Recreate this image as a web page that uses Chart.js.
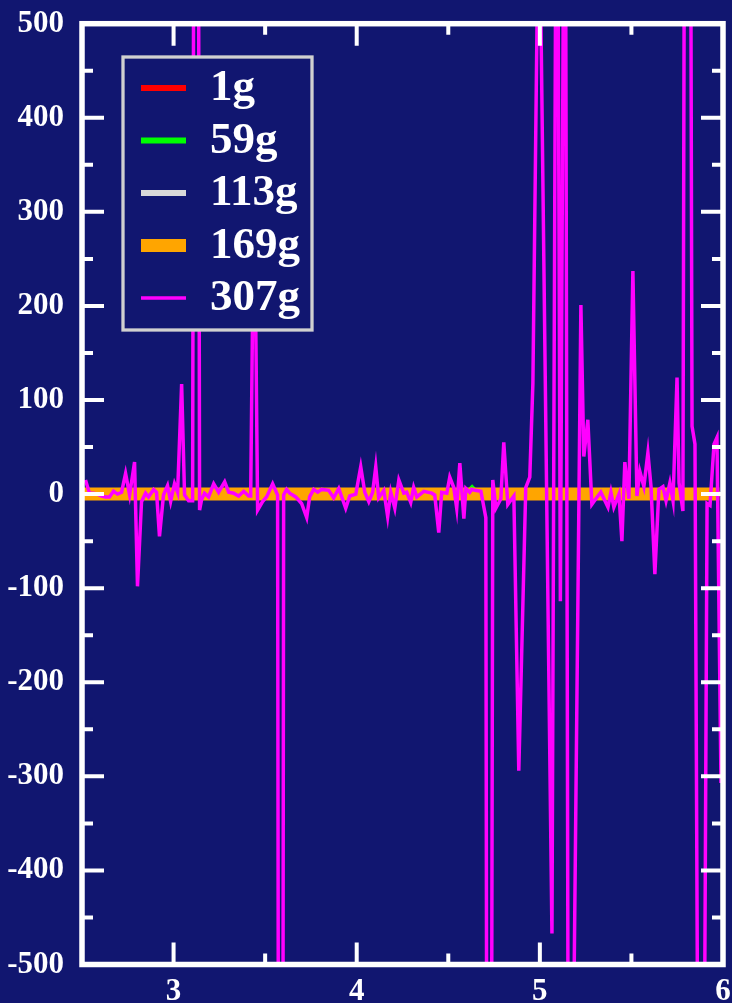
<!DOCTYPE html>
<html>
<head>
<meta charset="utf-8">
<script src="https://cdn.jsdelivr.net/npm/chart.js@4/dist/chart.umd.min.js"></script>
<style>
  html, body { margin: 0; padding: 0; background: #111670; }
  canvas { display: block; }
</style>
</head>
<body>
<canvas id="myChart" width="732" height="1003"></canvas>
<script>
// axis ticks
const xTicks = [3, 4, 5, 6];
const xMinor = [3.5, 4.5, 5.5];
const yTicks = [-500, -400, -300, -200, -100, 0, 100, 200, 300, 400, 500];
const yMinor = [-450, -350, -250, -150, -50, 50, 150, 250, 350, 450];

// 1g, 59g, 113g, 169g : all sit on zero
const x1g = [2.5, 2.8, 3.1, 3.4, 3.7, 4.0, 4.3, 4.6, 4.9, 5.2, 5.5, 5.8, 5.98];
const y1g = [0, 1, -1, 0, 1, 0, -1, 0, 1, -1, 0, 1, 0];

const x59g = [2.5, 3.0, 3.5, 4.0, 4.5, 4.6, 4.63, 4.66, 5.0, 5.5, 5.98];
const y59g = [0, 1, -1, 0, 1, 0, 6, 0, -1, 0, 1];

const x113g = [2.5, 2.9, 3.3, 3.7, 4.1, 4.5, 4.9, 5.3, 5.7, 5.98];
const y113g = [1, 0, -1, 0, 1, 0, -1, 0, 1, 0];

const x169g = [2.5, 3.0, 3.5, 4.0, 4.5, 5.0, 5.5, 5.98];
const y169g = [0, 0, 0, 0, 0, 0, 0, 0];

// 307g
const x307g = [
  2.519, 2.541, 2.563, 2.585, 2.607, 2.628, 2.650, 2.672, 2.694, 2.716,
  2.738, 2.760, 2.787, 2.803, 2.825, 2.847, 2.863, 2.891, 2.907, 2.923,
  2.945, 2.967, 2.984, 3.005, 3.022, 3.044, 3.060, 3.082, 3.104, 3.123,
  3.142, 3.153, 3.169, 3.191, 3.219, 3.246, 3.279, 3.301, 3.328, 3.355,
  3.383, 3.410, 3.421, 3.440, 3.459, 3.486, 3.508, 3.541, 3.568, 3.585,
  3.601, 3.617, 3.634, 3.667, 3.699, 3.727, 3.743, 3.765, 3.787, 3.809,
  3.847, 3.874, 3.902, 3.940, 3.962, 3.995, 4.022, 4.044, 4.066, 4.087,
  4.104, 4.120, 4.148, 4.169, 4.186, 4.208, 4.230, 4.257, 4.273, 4.295,
  4.311, 4.328, 4.366, 4.410, 4.426, 4.448, 4.464, 4.492, 4.508, 4.530,
  4.546, 4.563, 4.585, 4.596, 4.617, 4.628, 4.645, 4.678, 4.705, 4.721,
  4.743, 4.760, 4.787, 4.803, 4.825, 4.858, 4.885, 4.923, 4.945, 4.962,
  4.995, 5.066, 5.093, 5.112, 5.137, 5.158, 5.180, 5.224, 5.240, 5.262,
  5.284, 5.306, 5.333, 5.372, 5.388, 5.404, 5.432, 5.448, 5.464, 5.486,
  5.508, 5.530, 5.546, 5.568, 5.590, 5.607, 5.628, 5.650, 5.672, 5.689,
  5.710, 5.727, 5.749, 5.760, 5.781, 5.795, 5.817, 5.831, 5.847, 5.869,
  5.891, 5.913, 5.929, 5.951, 5.967, 5.989
];
const y307g = [
  15, 1, 1, 0, -2, -3, -3, 3, 0, 2,
  22, -1, 34, -98, -8, 1, -3, 5, 2, -45,
  -1, 9, -8, 11, 2, 117, -1, -7, -7, 2000,
  -17, -6, 1, -3, 11, 2, 13, 2, 1, -2,
  3, -2, -2, 350, -17, -8, -3, 11, -1, -2500,
  -1, 5, 1, -3, -10, -25, -3, 5, 2, 5,
  4, -4, 6, -15, -2, 0, 29, 2, -8, 2,
  29, -4, 4, -24, 2, -15, 15, 1, 2, -9,
  7, -3, 3, 1, -1, -41, 2, 1, 18, 7,
  -15, 33, -26, 6, 2, 5, 4, 3, -25, -2000,
  15, -15, -5, 55, -11, -2, -294, 7, 18, 118,
  680, -467, 900, -114, 900, -900, -650, 201, 40, 79,
  -11, -5, 2, -14, 2, -14, 0, -50, 34, -5,
  237, -2, 24, 8, 44, 8, -85, 5, 8, -7,
  12, -7, 124, 12, -18, 1100, 1100, 72, 53, -900,
  -900, -10, -12, 53, 60, -307
];

const BG = '#111670';
const toPts = (xs, ys) => xs.map((x, i) => ({ x: x, y: ys[i] }));

const background = {
  id: 'background',
  beforeDraw(chart) {
    const ctx = chart.ctx;
    ctx.save();
    ctx.fillStyle = BG;
    ctx.fillRect(0, 0, chart.width, chart.height);
    ctx.restore();
  }
};

// white box round the plot with inward ticks on every side
const frame = {
  id: 'frame',
  afterDatasetsDraw(chart) {
    const { ctx, chartArea: a, scales } = chart;
    const sx = scales.x, sy = scales.y;
    ctx.save();
    ctx.strokeStyle = '#fff';
    ctx.lineWidth = 4;
    ctx.beginPath();
    const xt = (v, len) => {
      const p = sx.getPixelForValue(v);
      ctx.moveTo(p, a.bottom); ctx.lineTo(p, a.bottom - len);
      ctx.moveTo(p, a.top); ctx.lineTo(p, a.top + len);
    };
    const yt = (v, len) => {
      const p = sy.getPixelForValue(v);
      ctx.moveTo(a.left, p); ctx.lineTo(a.left + len, p);
      ctx.moveTo(a.right, p); ctx.lineTo(a.right - len, p);
    };
    xTicks.forEach(v => xt(v, 22));
    xMinor.forEach(v => xt(v, 11));
    yTicks.forEach(v => yt(v, 22));
    yMinor.forEach(v => yt(v, 11));
    ctx.stroke();
    ctx.lineWidth = 5.5;
    ctx.strokeRect(a.left, a.top, a.right - a.left, a.bottom - a.top);
    ctx.restore();
  }
};

const legendBox = {
  id: 'legendBox',
  afterDraw(chart) {
    const ctx = chart.ctx;
    ctx.save();
    ctx.fillStyle = BG;
    ctx.fillRect(123, 57, 189, 273);
    ctx.strokeStyle = '#d0d0d0';
    ctx.lineWidth = 3.3;
    ctx.strokeRect(123, 57, 189, 273);
    ctx.font = 'bold 45px "Liberation Serif"';
    ctx.textBaseline = 'alphabetic';
    chart.data.datasets.forEach((ds, i) => {
      const cy = 88 + i * 52.5;
      ctx.fillStyle = ds.borderColor;
      ctx.fillRect(141, cy - ds.borderWidth / 2, 45, ds.borderWidth);
      ctx.fillStyle = '#fff';
      ctx.fillText(ds.label, 210, cy + 12);
    });
    ctx.restore();
  }
};

const series = (label, xs, ys, color, width, order) => ({
  label: label,
  data: toPts(xs, ys),
  borderColor: color,
  backgroundColor: color,
  borderWidth: width,
  pointRadius: 0,
  tension: 0,
  clip: 0,
  order: order
});

const tickFont = { family: '"Liberation Serif"', weight: 'bold', size: 31 };

new Chart(document.getElementById('myChart').getContext('2d'), {
  type: 'line',
  data: {
    datasets: [
      series('1g', x1g, y1g, '#ff0000', 6, 5),
      series('59g', x59g, y59g, '#00ff00', 6, 4),
      series('113g', x113g, y113g, '#d9d9d9', 6, 3),
      series('169g', x169g, y169g, '#ffa500', 13, 2),
      series('307g', x307g, y307g, '#ff00ff', 3.5, 1)
    ]
  },
  options: {
    responsive: false,
    animation: false,
    devicePixelRatio: 1,
    layout: { padding: { top: 23.7, right: 9, left: 0, bottom: 0 } },
    plugins: {
      legend: { display: false },
      tooltip: { enabled: false }
    },
    scales: {
      x: {
        type: 'linear',
        min: 2.5,
        max: 6,
        afterBuildTicks: s => { s.ticks = xTicks.map(v => ({ value: v })); },
        afterFit: s => { s.height = 38.5; s.paddingLeft = 0; s.paddingRight = 0; },
        grid: { display: false },
        border: { display: false },
        ticks: { color: '#fff', font: tickFont, padding: 1, maxRotation: 0, autoSkip: false }
      },
      y: {
        type: 'linear',
        min: -500,
        max: 500,
        afterBuildTicks: s => { s.ticks = yTicks.map(v => ({ value: v })); },
        afterFit: s => { s.width = 82; s.paddingTop = 0; s.paddingBottom = 0; },
        grid: { display: false },
        border: { display: false },
        ticks: { color: '#fff', font: tickFont, padding: 10, autoSkip: false }
      }
    }
  },
  plugins: [background, frame, legendBox]
});
</script>
</body>
</html>
